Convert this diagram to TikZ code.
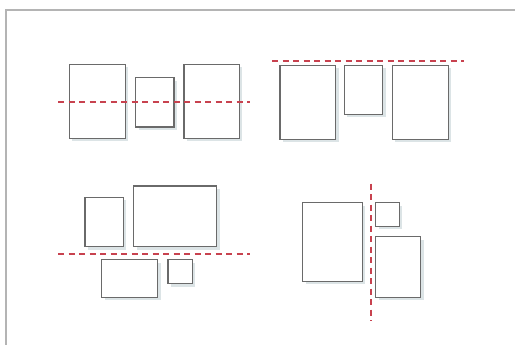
\documentclass[tikz,border=0pt]{standalone}
\usetikzlibrary{shadows}
\definecolor{framec}{HTML}{B4B4B4}
\definecolor{boxc}{HTML}{6A6A6A}
\definecolor{shadc}{HTML}{DCE4E6}
\definecolor{cutc}{HTML}{C8424F}
\tikzset{
  paper/.style={draw=boxc, line width=1.2pt, fill=white, inner sep=0pt, outer sep=0pt,
    anchor=north west,
    drop shadow={shadow xshift=3pt, shadow yshift=-3pt, fill=shadc, opacity=1}},
  cut/.style={draw=cutc, line width=1.8pt, dash pattern=on 6pt off 4.5pt},
  frameline/.style={draw=framec, line width=1.5pt}
}
\begin{document}
\begin{tikzpicture}[x=1pt, y=-1pt]
\useasboundingbox (0,0) rectangle (515,345);
% frame
\coordinate (f1) at (6,345);
\coordinate (f2) at (6,10);
\coordinate (f3) at (515,10);
\draw[frameline] (f1) -- (f2) -- (f3);
% panel 1
\node[paper, minimum width=56pt, minimum height=74pt] (A) at (69.3,64.3) {};
\node[paper, minimum width=38.3pt, minimum height=49.3pt] (B) at (135.7,77.7) {};
\node[paper, minimum width=55.3pt, minimum height=74pt] (C) at (184,64.3) {};
\coordinate (c1a) at (58,101.7);
\coordinate (c1b) at (250,101.7);
\draw[cut] (c1a) -- (c1b);
% panel 2
\node[paper, minimum width=55.7pt, minimum height=74pt] (D) at (280,65.3) {};
\node[paper, minimum width=38.4pt, minimum height=49pt] (E) at (344.3,65.3) {};
\node[paper, minimum width=56pt, minimum height=74pt] (F) at (392.3,65.3) {};
\coordinate (c2a) at (272,61.3);
\coordinate (c2b) at (464,61.3);
\draw[cut] (c2a) -- (c2b);
% panel 3
\node[paper, minimum width=38.3pt, minimum height=49.4pt] (G) at (85,197.3) {};
\node[paper, minimum width=83pt, minimum height=60.7pt] (H) at (133.7,186) {};
\node[paper, minimum width=56pt, minimum height=37.6pt] (I) at (101.7,259.7) {};
\node[paper, minimum width=24.3pt, minimum height=24pt] (J) at (168,259.7) {};
\coordinate (c3a) at (58,254);
\coordinate (c3b) at (250,254);
\draw[cut] (c3a) -- (c3b);
% panel 4
\node[paper, minimum width=59.6pt, minimum height=78.6pt] (K) at (302.7,202.7) {};
\node[paper, minimum width=23.6pt, minimum height=23.6pt] (L) at (375.7,202.7) {};
\node[paper, minimum width=45pt, minimum height=60.6pt] (M) at (375.7,236.7) {};
\coordinate (c4a) at (370.7,183.7);
\coordinate (c4b) at (370.7,321);
\draw[cut] (c4a) -- (c4b);
\end{tikzpicture}
\end{document}
